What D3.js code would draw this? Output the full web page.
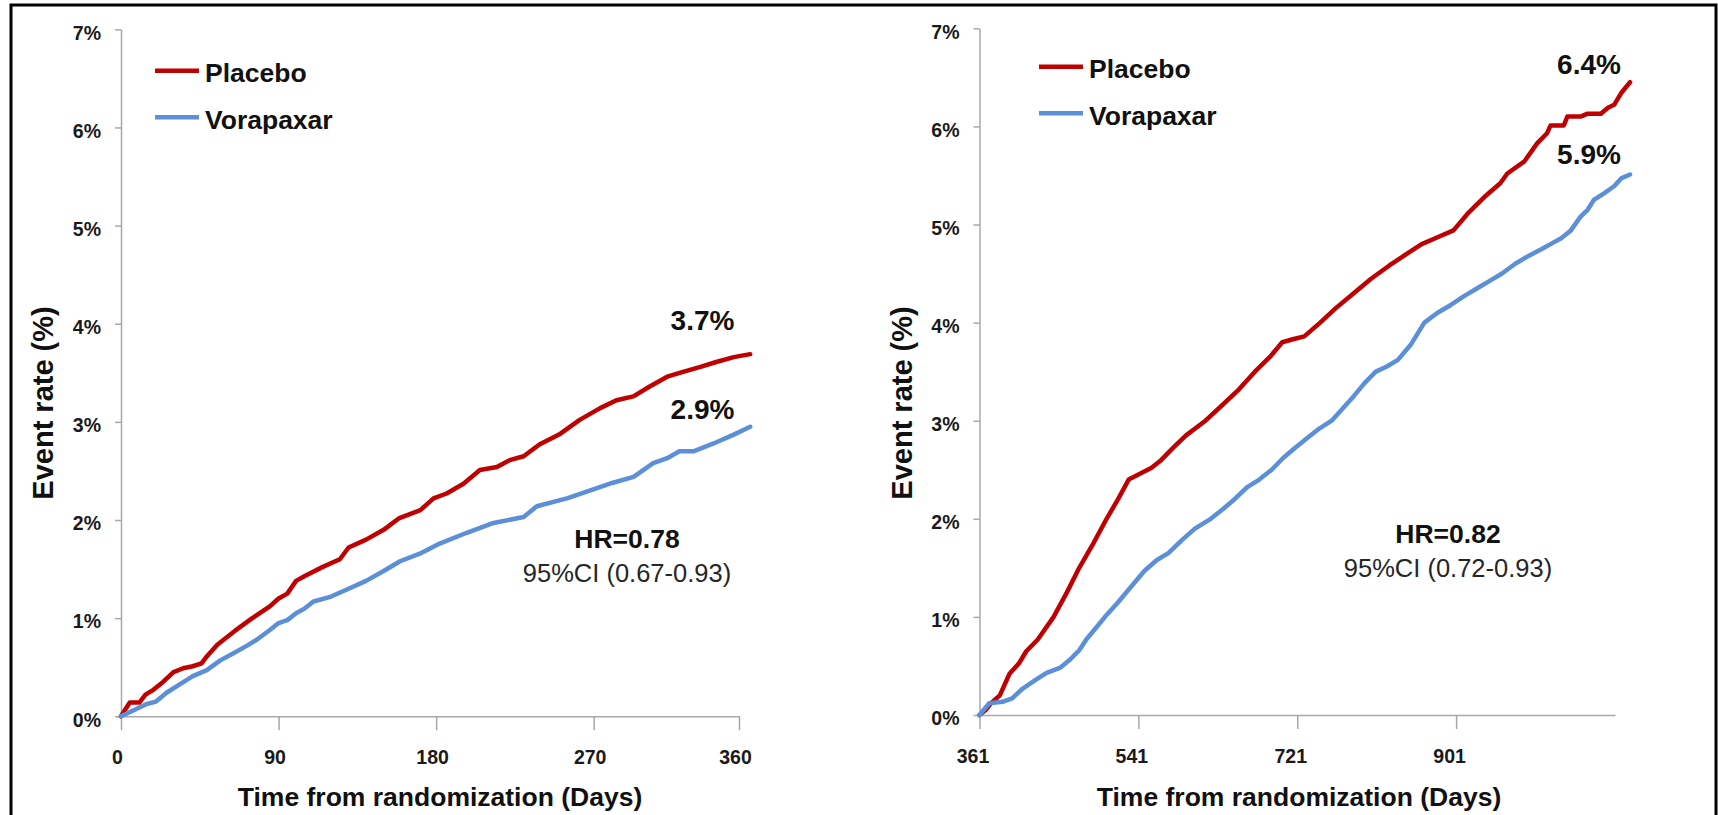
<!DOCTYPE html>
<html>
<head>
<meta charset="utf-8">
<script src="https://cdn.jsdelivr.net/npm/d3@7"></script>
<style>
  body { margin: 0; background: #fff; }
  svg { display: block; font-family: "Liberation Sans", Arial, sans-serif; }
</style>
</head>
<body>
<div class="km-chart"></div>
<script>
// year 1: days 0-360, [day, event rate %]
const leftPlacebo = [[0,0],[5,0.14],[10.5,0.14],[14,0.22],[18.5,0.27],[24,0.35],[30,0.45],[35.5,0.49],[41,0.51],[46,0.54],[49,0.61],[55,0.73],[65,0.87],[75,1.0],[85,1.12],[90,1.2],[95,1.25],[100,1.38],[105,1.43],[115,1.52],[125,1.6],[130,1.72],[140,1.8],[150,1.9],[159,2.02],[171,2.1],[178.5,2.22],[186,2.27],[195.6,2.37],[205,2.51],[214.7,2.54],[222,2.61],[230,2.65],[239,2.77],[251,2.88],[262,3.02],[273.7,3.14],[283,3.22],[292.7,3.26],[302,3.36],[312,3.46],[321,3.51],[331,3.56],[340,3.61],[350,3.66],[359.4,3.69]];
const leftVorapaxar = [[0,0],[7,0.06],[14.7,0.125],[20,0.15],[26,0.24],[34,0.33],[41,0.41],[49,0.47],[56.7,0.57],[64,0.64],[72,0.72],[77.5,0.78],[85,0.88],[90,0.95],[95,0.98],[100,1.05],[105,1.1],[110,1.17],[120,1.22],[130,1.3],[140,1.38],[150,1.48],[159.4,1.58],[171,1.66],[182,1.76],[197.5,1.87],[212.8,1.97],[230,2.03],[237.5,2.14],[254.7,2.22],[266,2.29],[281,2.38],[292.8,2.44],[304,2.58],[312,2.63],[319,2.7],[327,2.7],[338.5,2.78],[350,2.87],[359.4,2.95]];

// after year 1: days 361-1098
const rightPlacebo = [[361,0],[368,0.05],[374,0.12],[384,0.2],[395,0.42],[406,0.53],[414,0.65],[427,0.77],[445,1.0],[460,1.25],[474,1.5],[490,1.75],[505,2.0],[518,2.2],[530,2.4],[545,2.47],[556,2.52],[567,2.6],[580,2.72],[595,2.85],[617,3.0],[635,3.15],[655,3.32],[673,3.5],[690,3.65],[704,3.8],[716,3.83],[729,3.86],[747,4.0],[765,4.15],[785,4.3],[805,4.45],[825,4.58],[845,4.7],[862,4.8],[880,4.87],[898,4.94],[914,5.11],[933,5.28],[951,5.42],[959,5.52],[978,5.64],[993,5.83],[1004,5.93],[1008,6.01],[1023,6.01],[1027,6.1],[1042,6.1],[1050,6.13],[1065,6.13],[1073,6.19],[1080,6.22],[1088,6.34],[1098,6.45]];
const rightVorapaxar = [[361,0],[372,0.12],[387,0.135],[398,0.17],[410,0.27],[425,0.36],[437,0.43],[452,0.48],[463,0.56],[474,0.66],[482,0.77],[494,0.9],[505,1.02],[518,1.15],[532,1.3],[548,1.47],[562,1.58],[575,1.65],[590,1.78],[605,1.9],[623,2.0],[637,2.1],[650,2.2],[664,2.32],[678,2.4],[692,2.5],[705,2.62],[718,2.72],[732,2.82],[746,2.92],[760,3.0],[772,3.12],[785,3.25],[797,3.38],[810,3.5],[822,3.55],[835,3.62],[850,3.78],[865,4.0],[880,4.1],[895,4.18],[910,4.27],[925,4.35],[940,4.43],[953,4.5],[968,4.6],[983,4.68],[998,4.75],[1008,4.8],[1020,4.86],[1031,4.94],[1042,5.08],[1050,5.15],[1057,5.25],[1069,5.32],[1080,5.39],[1088,5.47],[1098,5.51]];

const yTicks = [0, 1, 2, 3, 4, 5, 6, 7];
const leftTickDays = [0, 90, 180, 270, 353];
const leftTickLabels = ["0", "90", "180", "270", "360"];
const rightTickDays = [361, 541, 721, 901];
const rightTickLabels = ["361", "541", "721", "901"];

const seriesNames = ["Placebo", "Vorapaxar"];
const leftEndLabels = ["3.7%", "2.9%"];
const rightEndLabels = ["6.4%", "5.9%"];
const leftHR = ["HR=0.78", "95%CI (0.67-0.93)"];
const rightHR = ["HR=0.82", "95%CI (0.72-0.93)"];

const colors = ["#C00000", "#5B8FD8"];
const axisGrey = "#A8A8A8";

const svg = d3.select(".km-chart")
    .append("svg")
    .attr("width", 1718)
    .attr("height", 815);

svg.append("rect")
    .attr("width", 1718).attr("height", 815)
    .attr("fill", "#fff");

// outer frame
svg.append("rect")
    .attr("x", 11).attr("y", 5)
    .attr("width", 1705).attr("height", 830)
    .attr("fill", "none")
    .attr("stroke", "#000")
    .attr("stroke-width", 3);

function drawPanel(p) {
    const x = d3.scaleLinear().domain(p.xDomain).range(p.xRange);
    const y = d3.scaleLinear().domain([0, 7]).range(p.yRange);
    const g = svg.append("g");

    const yAxis = g.append("g")
        .attr("transform", `translate(${p.xRange[0]},0)`)
        .call(d3.axisLeft(y)
            .tickValues(yTicks)
            .tickSize(6)
            .tickSizeOuter(0)
            .tickPadding(14)
            .tickFormat(d => d + "%"));

    const xAxis = g.append("g")
        .attr("transform", `translate(0,${p.yRange[0]})`)
        .call(d3.axisBottom(x)
            .tickValues(p.tickDays)
            .tickSize(14)
            .tickSizeOuter(0)
            .tickPadding(20)
            .tickFormat((d, i) => p.tickLabels[i]));

    [yAxis, xAxis].forEach(a => {
        a.selectAll("path, line")
            .attr("stroke", axisGrey)
            .attr("stroke-width", 1.5);
        a.selectAll("text")
            .attr("font-size", "19.5px")
            .attr("font-weight", "bold")
            .attr("font-family", '"Liberation Sans", Arial, sans-serif')
            .attr("fill", "#1a1a1a");
    });
    yAxis.selectAll("text").attr("dy", "0.5em");
    xAxis.selectAll("text").attr("dx", p.tickDx);

    const line = d3.line()
        .x(d => x(d[0]))
        .y(d => y(d[1]));

    [p.placebo, p.vorapaxar].forEach((s, i) => {
        g.append("path")
            .datum(s)
            .attr("d", line)
            .attr("fill", "none")
            .attr("stroke", colors[i])
            .attr("stroke-width", 4.5)
            .attr("stroke-linejoin", "round")
            .attr("stroke-linecap", "round");
    });

    // end-of-curve rates
    p.endLabels.forEach((t, i) => {
        g.append("text")
            .attr("x", p.endLabelX)
            .attr("y", p.endLabelY[i])
            .attr("text-anchor", "middle")
            .attr("font-size", "28px")
            .attr("font-weight", "bold")
            .attr("fill", "#111")
            .text(t);
    });

    // legend
    seriesNames.forEach((name, i) => {
        const ly = p.legendY + i * 46.5;
        g.append("line")
            .attr("x1", p.legendX).attr("x2", p.legendX + 44)
            .attr("y1", ly).attr("y2", ly)
            .attr("stroke", colors[i])
            .attr("stroke-width", 4.5);
        g.append("text")
            .attr("x", p.legendX + 50)
            .attr("y", ly + 11.5)
            .attr("font-size", "26.5px")
            .attr("font-weight", "bold")
            .attr("fill", "#111")
            .text(name);
    });

    // hazard ratio
    g.append("text")
        .attr("x", p.hrX).attr("y", p.hrY)
        .attr("text-anchor", "middle")
        .attr("font-size", "26.5px")
        .attr("font-weight", "bold")
        .attr("fill", "#111")
        .text(p.hr[0]);
    g.append("text")
        .attr("x", p.hrX).attr("y", p.hrY + 34)
        .attr("text-anchor", "middle")
        .attr("font-size", "25.5px")
        .attr("fill", "#262626")
        .text(p.hr[1]);

    // axis titles
    g.append("text")
        .attr("x", p.xTitleX).attr("y", 806)
        .attr("text-anchor", "middle")
        .attr("font-size", "26.5px")
        .attr("font-weight", "bold")
        .attr("fill", "#111")
        .text("Time from randomization (Days)");
    g.append("text")
        .attr("transform", `translate(${p.yTitleX},403) rotate(-90)`)
        .attr("text-anchor", "middle")
        .attr("font-size", "29px")
        .attr("font-weight", "bold")
        .attr("fill", "#111")
        .text("Event rate (%)");
}

drawPanel({
    xDomain: [0, 353], xRange: [121, 739], yRange: [716.3, 29.3],
    tickDays: leftTickDays, tickLabels: leftTickLabels, tickDx: -4,
    placebo: leftPlacebo, vorapaxar: leftVorapaxar,
    endLabels: leftEndLabels, endLabelX: 702.5, endLabelY: [330, 419],
    hr: leftHR, hrX: 627, hrY: 548,
    legendX: 155, legendY: 70.7, xTitleX: 440, yTitleX: 53
});

drawPanel({
    xDomain: [361, 1081], xRange: [979.5, 1615], yRange: [715, 28.3],
    tickDays: rightTickDays, tickLabels: rightTickLabels, tickDx: -7,
    placebo: rightPlacebo, vorapaxar: rightVorapaxar,
    endLabels: rightEndLabels, endLabelX: 1589, endLabelY: [74, 164],
    hr: rightHR, hrX: 1448, hrY: 543,
    legendX: 1039, legendY: 66.7, xTitleX: 1299, yTitleX: 912
});
</script>
</body>
</html>
